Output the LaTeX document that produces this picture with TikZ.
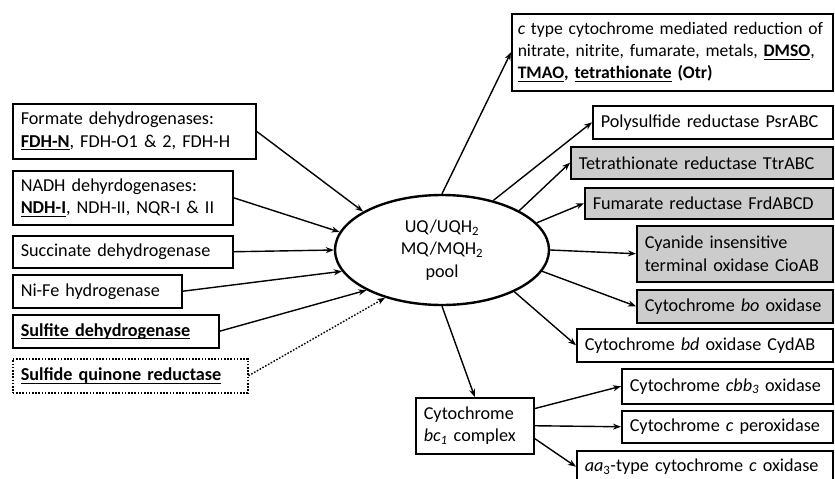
\documentclass[tikz,border=0pt]{standalone}
\usepackage{fontspec}
\setmainfont{Carlito}
\usetikzlibrary{shapes.geometric,arrows.meta}
% a thicker underline
\newcommand\undl[1]{\leavevmode\setbox0\hbox{#1}\rlap{\rule[-3.2pt]{\wd0}{1.1pt}}\box0\relax}

\begin{document}
\begin{tikzpicture}[x=1pt,y=-1pt,
  every node/.style={font=\fontsize{18.2}{22.2}\selectfont},
  enzyme/.style={draw,line width=1.5pt,anchor=north west,align=left,inner xsep=8pt,inner ysep=0pt},
  grey/.style={fill=gray!40},
  link/.style={line width=1.4pt,-{Stealth[length=8pt,width=6pt]}}]

\useasboundingbox (0,0) rectangle (835,479);

% the quinone pool in the middle
\node[draw,ellipse,line width=2.4pt,minimum width=214,minimum height=110,inner sep=0pt,align=center] (pool) at (442,250)
  {UQ/UQH\textsubscript{2}\\MQ/MQH\textsubscript{2}\\pool};

% electron donors on the left
\node[enzyme,text width=227pt,minimum height=55] (fdh) at (12,103)
  {Formate dehydrogenases:\\\textbf{\undl{FDH-N}}, FDH-O1 \& 2, FDH-H};
\node[enzyme,text width=204pt,minimum height=54] (ndh) at (12,170)
  {NADH dehyrdogenases:\\\textbf{\undl{NDH-I}}, NDH-II, NQR-I \& II};
\node[enzyme,text width=204pt,minimum height=32] (sdh) at (12,235) {Succinate dehydrogenase};
\node[enzyme,text width=153pt,minimum height=33] (hyd) at (12,274) {Ni-Fe hydrogenase};
\node[enzyme,text width=190pt,minimum height=33] (sor) at (12,314) {\textbf{\undl{Sulfite dehydrogenase}}};
\node[enzyme,dash pattern=on 1.6pt off 1.6pt,text width=219pt,minimum height=34] (sqr) at (12,358)
  {\textbf{\undl{Sulfide quinone reductase}}};

% electron acceptors on the right
\node[enzyme,font=\fontsize{17.6}{22.2}\selectfont,inner xsep=6pt,text width=309pt,minimum height=77] (ctype) at (511,13)
  {\mbox{\textit{c} type cytochrome mediated reduction of}\\
   \mbox{nitrate, nitrite, fumarate, metals, \textbf{\undl{DMSO}},}\\
   \mbox{\textbf{\undl{TMAO}, \undl{tetrathionate} (Otr)}}};
\node[enzyme,text width=224pt,minimum height=33] (psr) at (592,105) {Polysulfide reductase PsrABC};
\node[enzyme,grey,text width=246pt,minimum height=32] (ttr) at (570,146) {Tetrathionate reductase TtrABC};
\node[enzyme,grey,text width=232pt,minimum height=31] (frd) at (584,187) {Fumarate reductase FrdABCD};
\node[enzyme,grey,text width=180pt,minimum height=56] (cio) at (636,225)
  {Cyanide insensitive\\terminal oxidase CioAB};
\node[enzyme,grey,text width=180pt,minimum height=33] (bo) at (636,289) {Cytochrome \textit{bo} oxidase};
\node[enzyme,text width=240pt,minimum height=33] (bd) at (576,328) {Cytochrome \textit{bd} oxidase CydAB};

% the bc1 branch
\node[enzyme,text width=102pt,minimum height=56] (bc1) at (415,397)
  {Cytochrome\\\textit{bc\textsubscript{1}} complex};
\node[enzyme,text width=195pt,minimum height=35] (cbb) at (621,368) {Cytochrome \textit{cbb\textsubscript{3}} oxidase};
\node[enzyme,text width=195pt,minimum height=32] (ccp) at (621,410) {Cytochrome \textit{c} peroxidase};
\node[enzyme,text width=240pt,minimum height=32] (aa) at (576,450) {\textit{aa}\textsubscript{3}-type cytochrome \textit{c} oxidase};

% arrows into the pool
\draw[link] (fdh.east) -- (pool.154);
\draw[link] (ndh.east) -- (pool.170);
\draw[link] (sdh.east) -- (pool.180);
\draw[link] (hyd.east) -- (pool.192);
\draw[link] (sor.east) -- (pool.208);
\draw[link,dash pattern=on 1.6pt off 1.6pt] (sqr.east) -- (pool.220);

% arrows out of the pool
\draw[link] (pool.90) -- (ctype.west);
\draw[link] (pool.44) -- (psr.west);
\draw[link] (pool.27) -- (ttr.west);
\draw[link] (pool.16) -- (frd.west);
\draw[link] (pool.0) -- (cio.west);
\draw[link] (pool.-12) -- (bo.west);
\draw[link] (pool.-30) -- (bd.west);
\draw[link] (pool.-90) -- (bc1.north);

% arrows out of bc1
\draw[link] (bc1.16) -- (cbb.west);
\draw[link] (bc1.east) -- (ccp.west);
\draw[link] (bc1.-12) -- (aa.west);

\end{tikzpicture}
\end{document}
